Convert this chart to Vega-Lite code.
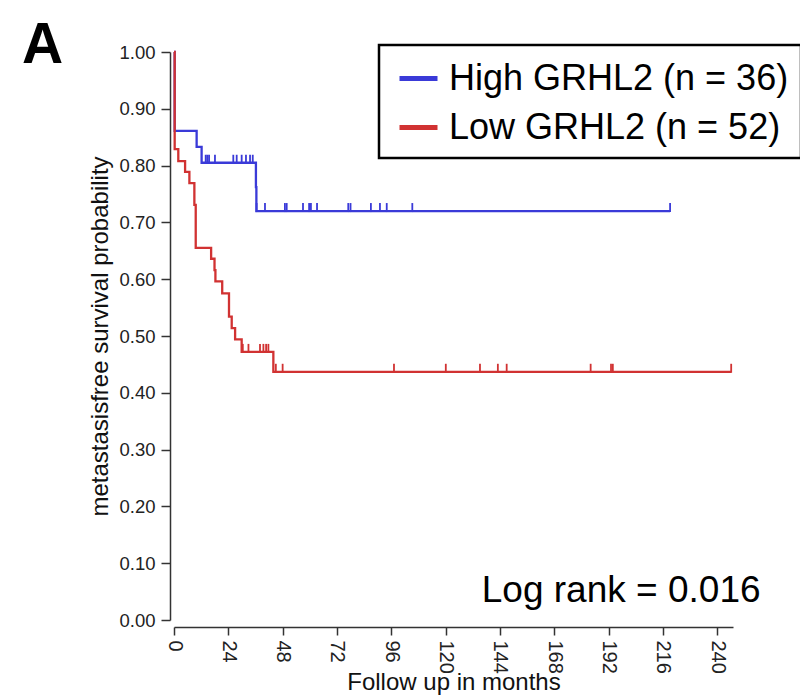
{
  "$schema": "https://vega.github.io/schema/vega-lite/v6.json",
  "width": 559,
  "height": 568,
  "autosize": {"type": "none"},
  "padding": {"left": 174, "top": 52, "right": 67, "bottom": 77},
  "background": "white",
  "config": {"view": {"stroke": null}, "font": "Liberation Sans"},
  "datasets": {
    "steps": [
      {"group": "High GRHL2 (n = 36)", "months": 0, "survival": 1.0},
      {"group": "High GRHL2 (n = 36)", "months": 0.3, "survival": 0.861},
      {"group": "High GRHL2 (n = 36)", "months": 10.0, "survival": 0.833},
      {"group": "High GRHL2 (n = 36)", "months": 12.2, "survival": 0.805},
      {"group": "High GRHL2 (n = 36)", "months": 36.2, "survival": 0.762},
      {"group": "High GRHL2 (n = 36)", "months": 36.4, "survival": 0.72},
      {"group": "High GRHL2 (n = 36)", "months": 219.2, "survival": 0.72},
      {"group": "Low GRHL2 (n = 52)", "months": 0, "survival": 1.0},
      {"group": "Low GRHL2 (n = 52)", "months": 0.3, "survival": 0.829},
      {"group": "Low GRHL2 (n = 52)", "months": 1.9, "survival": 0.808},
      {"group": "Low GRHL2 (n = 52)", "months": 4.9, "survival": 0.789},
      {"group": "Low GRHL2 (n = 52)", "months": 6.8, "survival": 0.769},
      {"group": "Low GRHL2 (n = 52)", "months": 9.0, "survival": 0.731},
      {"group": "Low GRHL2 (n = 52)", "months": 9.6, "survival": 0.655},
      {"group": "Low GRHL2 (n = 52)", "months": 16.4, "survival": 0.636},
      {"group": "Low GRHL2 (n = 52)", "months": 17.9, "survival": 0.616},
      {"group": "Low GRHL2 (n = 52)", "months": 18.3, "survival": 0.596},
      {"group": "Low GRHL2 (n = 52)", "months": 21.3, "survival": 0.575},
      {"group": "Low GRHL2 (n = 52)", "months": 24.3, "survival": 0.534},
      {"group": "Low GRHL2 (n = 52)", "months": 25.5, "survival": 0.514},
      {"group": "Low GRHL2 (n = 52)", "months": 27.0, "survival": 0.494},
      {"group": "Low GRHL2 (n = 52)", "months": 29.9, "survival": 0.472},
      {"group": "Low GRHL2 (n = 52)", "months": 43.9, "survival": 0.437},
      {"group": "Low GRHL2 (n = 52)", "months": 246.2, "survival": 0.437}
    ],
    "censors": [
      {"group": "High GRHL2 (n = 36)", "months": 14.0, "survival": 0.805},
      {"group": "High GRHL2 (n = 36)", "months": 14.7, "survival": 0.805},
      {"group": "High GRHL2 (n = 36)", "months": 15.5, "survival": 0.805},
      {"group": "High GRHL2 (n = 36)", "months": 18.1, "survival": 0.805},
      {"group": "High GRHL2 (n = 36)", "months": 26.2, "survival": 0.805},
      {"group": "High GRHL2 (n = 36)", "months": 27.7, "survival": 0.805},
      {"group": "High GRHL2 (n = 36)", "months": 29.9, "survival": 0.805},
      {"group": "High GRHL2 (n = 36)", "months": 31.8, "survival": 0.805},
      {"group": "High GRHL2 (n = 36)", "months": 33.6, "survival": 0.805},
      {"group": "High GRHL2 (n = 36)", "months": 34.8, "survival": 0.805},
      {"group": "High GRHL2 (n = 36)", "months": 36.5, "survival": 0.72},
      {"group": "High GRHL2 (n = 36)", "months": 40.2, "survival": 0.72},
      {"group": "High GRHL2 (n = 36)", "months": 49.0, "survival": 0.72},
      {"group": "High GRHL2 (n = 36)", "months": 49.8, "survival": 0.72},
      {"group": "High GRHL2 (n = 36)", "months": 57.0, "survival": 0.72},
      {"group": "High GRHL2 (n = 36)", "months": 59.7, "survival": 0.72},
      {"group": "High GRHL2 (n = 36)", "months": 60.5, "survival": 0.72},
      {"group": "High GRHL2 (n = 36)", "months": 63.2, "survival": 0.72},
      {"group": "High GRHL2 (n = 36)", "months": 77.0, "survival": 0.72},
      {"group": "High GRHL2 (n = 36)", "months": 78.0, "survival": 0.72},
      {"group": "High GRHL2 (n = 36)", "months": 87.0, "survival": 0.72},
      {"group": "High GRHL2 (n = 36)", "months": 91.0, "survival": 0.72},
      {"group": "High GRHL2 (n = 36)", "months": 94.0, "survival": 0.72},
      {"group": "High GRHL2 (n = 36)", "months": 105.3, "survival": 0.72},
      {"group": "High GRHL2 (n = 36)", "months": 219.2, "survival": 0.72},
      {"group": "Low GRHL2 (n = 52)", "months": 30.4, "survival": 0.472},
      {"group": "Low GRHL2 (n = 52)", "months": 32.9, "survival": 0.472},
      {"group": "Low GRHL2 (n = 52)", "months": 38.0, "survival": 0.472},
      {"group": "Low GRHL2 (n = 52)", "months": 39.5, "survival": 0.472},
      {"group": "Low GRHL2 (n = 52)", "months": 40.7, "survival": 0.472},
      {"group": "Low GRHL2 (n = 52)", "months": 41.7, "survival": 0.472},
      {"group": "Low GRHL2 (n = 52)", "months": 45.0, "survival": 0.437},
      {"group": "Low GRHL2 (n = 52)", "months": 48.0, "survival": 0.437},
      {"group": "Low GRHL2 (n = 52)", "months": 97.2, "survival": 0.437},
      {"group": "Low GRHL2 (n = 52)", "months": 120.1, "survival": 0.437},
      {"group": "Low GRHL2 (n = 52)", "months": 135.2, "survival": 0.437},
      {"group": "Low GRHL2 (n = 52)", "months": 143.1, "survival": 0.437},
      {"group": "Low GRHL2 (n = 52)", "months": 147.0, "survival": 0.437},
      {"group": "Low GRHL2 (n = 52)", "months": 184.1, "survival": 0.437},
      {"group": "Low GRHL2 (n = 52)", "months": 193.1, "survival": 0.437},
      {"group": "Low GRHL2 (n = 52)", "months": 193.9, "survival": 0.437},
      {"group": "Low GRHL2 (n = 52)", "months": 246.2, "survival": 0.437}
    ],
    "notes": [
      {"label": "Log rank = 0.016", "months": 136.0, "survival": 0.032}
    ],
    "panel": [
      {"label": "A", "months": -67.2, "survival": 0.9806}
    ]
  },
  "layer": [
    {
      "data": {"name": "steps"},
      "mark": {"type": "line", "interpolate": "step-after", "strokeWidth": 2.3},
      "encoding": {
        "x": {
          "field": "months", "type": "quantitative",
          "scale": {"domain": [0, 247], "nice": false, "zero": false},
          "axis": {
            "values": [0, 24, 48, 72, 96, 120, 144, 168, 192, 216, 240],
            "labelAngle": 90, "labelAlign": "left", "labelBaseline": "middle",
            "labelFontSize": 20, "labelColor": "#222", "labelFlush": false, "labelOverlap": false,
            "labelPadding": 5,
            "tickSize": 8, "tickColor": "#333", "tickWidth": 1.5,
            "domainColor": "#333", "domainWidth": 1.5,
            "offset": 7, "grid": false,
            "title": "Follow up in months", "titleFontSize": 24, "titleFontWeight": "normal",
            "titleColor": "#111", "titlePadding": -3
          }
        },
        "y": {
          "field": "survival", "type": "quantitative",
          "scale": {"domain": [0, 1], "nice": false},
          "axis": {
            "values": [0, 0.1, 0.2, 0.3, 0.4, 0.5, 0.6, 0.7, 0.8, 0.9, 1.0],
            "format": ".2f",
            "labelFontSize": 18.5, "labelColor": "#222", "labelFlush": false, "labelOverlap": false,
            "labelPadding": 6,
            "tickSize": 9, "tickColor": "#333", "tickWidth": 1.5,
            "domainColor": "#333", "domainWidth": 1.5,
            "offset": 4, "grid": false,
            "title": "metastasisfree survival probability", "titleFontSize": 24, "titleFontWeight": "normal",
            "titleColor": "#111", "titlePadding": 6
          }
        },
        "color": {
          "field": "group", "type": "nominal",
          "scale": {"domain": ["High GRHL2 (n = 36)", "Low GRHL2 (n = 52)"], "range": ["#3a3ad8", "#d13232"]},
          "legend": {
            "title": null, "orient": "none", "legendX": 205, "legendY": -7,
            "strokeColor": "black", "padding": 12,
            "symbolType": "stroke", "symbolSize": 1444, "symbolStrokeWidth": 5, "symbolOffset": 6,
            "labelFontSize": 36, "labelColor": "black", "labelLimit": 600, "labelOffset": 9,
            "rowPadding": 9,
            "encode": {
              "symbols": {"update": {"stroke": {"signal": "datum.value === 'High GRHL2 (n = 36)' ? '#4a7fc0' : '#dc2a2a'"}}},
              "legend": {"update": {"strokeWidth": {"value": 2.5}}}
            }
          }
        }
      }
    },
    {
      "data": {"name": "censors"},
      "mark": {"type": "tick", "orient": "vertical", "size": 9, "thickness": 1.8, "yOffset": -3.5, "opacity": 1},
      "encoding": {
        "x": {"field": "months", "type": "quantitative"},
        "y": {"field": "survival", "type": "quantitative"},
        "color": {"field": "group", "type": "nominal"}
      }
    },
    {
      "data": {"name": "notes"},
      "mark": {"type": "text", "align": "left", "baseline": "alphabetic", "fontSize": 37, "color": "black"},
      "encoding": {
        "x": {"field": "months", "type": "quantitative"},
        "y": {"field": "survival", "type": "quantitative"},
        "text": {"field": "label"}
      }
    },
    {
      "data": {"name": "panel"},
      "mark": {"type": "text", "align": "left", "baseline": "alphabetic", "fontSize": 57, "fontWeight": "bold", "color": "black"},
      "encoding": {
        "x": {"field": "months", "type": "quantitative"},
        "y": {"field": "survival", "type": "quantitative"},
        "text": {"field": "label"}
      }
    }
  ]
}
